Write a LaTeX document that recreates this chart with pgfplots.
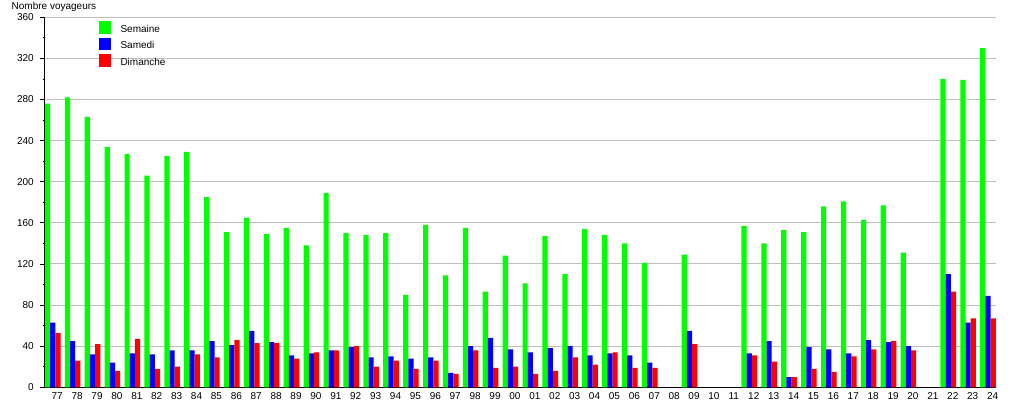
\documentclass[border=0pt]{standalone}
\usepackage{pgfplots}
\pgfplotsset{compat=1.18}
\usepackage{pgfplotstable}
\usepackage{fontspec}
\setmainfont{Liberation Sans}
\definecolor{cgreen}{RGB}{0,255,0}
\definecolor{cblue}{RGB}{0,0,255}
\definecolor{cred}{RGB}{255,0,0}
\definecolor{cgrid}{RGB}{190,190,190}
\pgfplotstableread{
idx sem sam dim
0 276 63 53
1 282 45 26
2 263 32 42
3 234 24 16
4 227 33 47
5 206 32 18
6 225 36 20
7 229 36 32
8 185 45 29
9 151 41 46
10 165 55 43
11 149 44 43
12 155 31 28
13 138 33 34
14 189 36 36
15 150 39 40
16 148 29 20
17 150 30 26
18 90 28 18
19 158 29 26
20 109 14 13
21 155 40 36
22 93 48 19
23 128 37 20
24 101 34 13
25 147 38 16
26 110 40 29
27 154 31 22
28 148 33 34
29 140 31 19
30 121 24 19
32 129 55 42
35 157 33 31
36 140 45 25
37 153 10 10
38 151 39 18
39 176 37 15
40 181 33 30
41 163 46 37
42 177 44 45
43 131 40 36
45 300 110 93
46 299 63 67
47 330 89 67
}\datatable
\begin{document}
\begin{tikzpicture}
\path[use as bounding box] (-33.75pt,-9.525pt) rectangle (727.5pt,290.475pt);
\begin{axis}[
  at={(0pt,0pt)}, anchor=south west,
  scale only axis,
  width=713.25pt, height=277.5pt,
  xmin=-0.387, xmax=47.40,
  ymin=0, ymax=360,
  ybar=0pt, bar width=3.9pt,
  axis lines*=left,
  x axis line style={-, line width=0.75pt},
  y axis line style={-, line width=0.75pt},
  font=\fontsize{7.5}{9}\selectfont,
  /pgf/number format/assume math mode=true,
  ytick={0,40,...,360},
  minor y tick num=1,
  ymajorgrids,
  major grid style={cgrid, line width=0.75pt},
  tick align=outside,
  major tick length=3.75pt,
  minor tick length=1.7pt,
  tick style={black, line width=0.6pt},
  yticklabel style={xshift=-1.2pt},
  xtick={0,...,47},
  xticklabels={77,78,79,80,81,82,83,84,85,86,87,88,89,90,91,92,93,94,95,96,97,98,99,00,01,02,03,04,05,06,07,08,09,10,11,12,13,14,15,16,17,18,19,20,21,22,23,24},
  xtick style={draw=none},
  xticklabel style={xshift=3.4pt, yshift=3.4pt},
  every axis y label/.style={at={(rel axis cs:0,1)}, anchor=base west, xshift=-28.5pt, yshift=5.9pt},
  ylabel={Nombre voyageurs},
  legend style={at={(0.056,0.99)}, anchor=north west, draw=none, fill=none,
    font=\fontsize{7.5}{9}\selectfont, row sep=0.6pt, column sep=5.5pt, inner sep=0pt},
  legend cell align=left,
  legend image code/.code={\fill[#1] (0pt,-3.2pt) rectangle (9pt,6.3pt);},
  clip=false,
]
\addplot[fill=cgreen, draw=none] table[x=idx, y=sem] {\datatable};
\addplot[fill=cblue, draw=none] table[x=idx, y=sam] {\datatable};
\addplot[fill=cred, draw=none] table[x=idx, y=dim] {\datatable};
\legend{Semaine, Samedi, Dimanche}
\end{axis}
\end{tikzpicture}
\end{document}
